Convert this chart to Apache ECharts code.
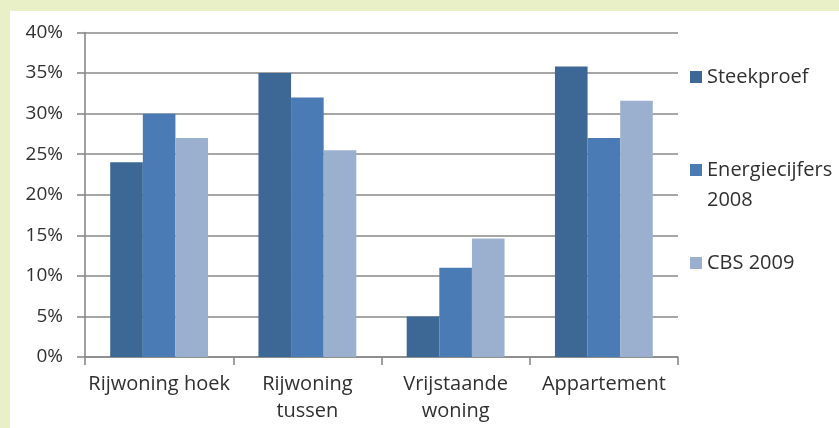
<!DOCTYPE html>
<html>
<head>
<meta charset="utf-8">
<style>
html,body{margin:0;padding:0;background:#e9f0c8;}
#chart{width:839px;height:428px;}
</style>
<script src="https://cdn.jsdelivr.net/npm/echarts@6/dist/echarts.min.js"></script>
</head>
<body>
<div id="chart"></div>
<script>
var categories = ['Rijwoning hoek', 'Rijwoning\ntussen', 'Vrijstaande\nwoning', 'Appartement'];
var seriesNames = ['Steekproef', 'Energiecijfers 2008', 'CBS 2009'];
var steekproef = [24, 35, 5, 35.8];
var energiecijfers2008 = [30, 32, 11, 27];
var cbs2009 = [27, 25.5, 14.6, 31.6];
var yTicks = [0, 5, 10, 15, 20, 25, 30, 35, 40];
var colors = ['#3d6895', '#4a7bb4', '#9bb0cf'];

var chart = echarts.init(document.getElementById('chart'));
var font = '"Open Sans", Lato, sans-serif';
var textColor = '#303030';
var seriesData = [steekproef, energiecijfers2008, cbs2009];

// legend item centres (first text line): 77, 170, 263
var legendCfg = [
  { top: 77 - 10, lh: 20 },
  { top: 170 - 45, lh: 30 },
  { top: 263 - 10, lh: 20 }
];
var legends = seriesNames.map(function (n, i) {
  return {
    data: [n],
    left: 690,
    top: legendCfg[i].top,
    padding: 0,
    orient: 'vertical',
    itemWidth: 12,
    itemHeight: 12,
    itemGap: 0,
    icon: 'rect',
    formatter: function (name) { return name === 'Energiecijfers 2008' ? ' \nEnergiecijfers\n2008' : name; },
    textStyle: { fontFamily: font, fontSize: 20, color: textColor, lineHeight: legendCfg[i].lh }
  };
});

chart.setOption({
  backgroundColor: '#e9f0c8',
  animation: false,
  graphic: [{
    type: 'rect', z: -10, silent: true,
    shape: { x: 10, y: 11, width: 829, height: 417 },
    style: { fill: '#ffffff' }
  }],
  legend: legends,
  grid: { left: 85, top: 32.5, width: 593, height: 324.5 },
  xAxis: {
    type: 'category',
    data: categories,
    axisLine: { lineStyle: { color: '#888888', width: 1.6 } },
    axisTick: { show: true, length: 8, lineStyle: { color: '#888888', width: 1.6 } },
    axisLabel: { interval: 0, fontFamily: font, fontSize: 20, color: textColor, margin: 14, lineHeight: 27 }
  },
  yAxis: {
    type: 'value',
    min: yTicks[0], max: yTicks[yTicks.length - 1], interval: 5,
    axisLine: { show: true, lineStyle: { color: '#888888', width: 1.6 } },
    axisTick: { show: true, length: 8, lineStyle: { color: '#888888', width: 1.6 } },
    splitLine: { lineStyle: { color: '#888888', width: 1.6 } },
    axisLabel: { fontFamily: font, fontSize: 19, color: textColor, margin: 22, formatter: '{value}%' }
  },
  series: seriesNames.map(function (n, i) {
    return {
      name: n, type: 'bar', data: seriesData[i],
      itemStyle: { color: colors[i] },
      barGap: '0%', barCategoryGap: '34%'
    };
  })
});
</script>
</body>
</html>
